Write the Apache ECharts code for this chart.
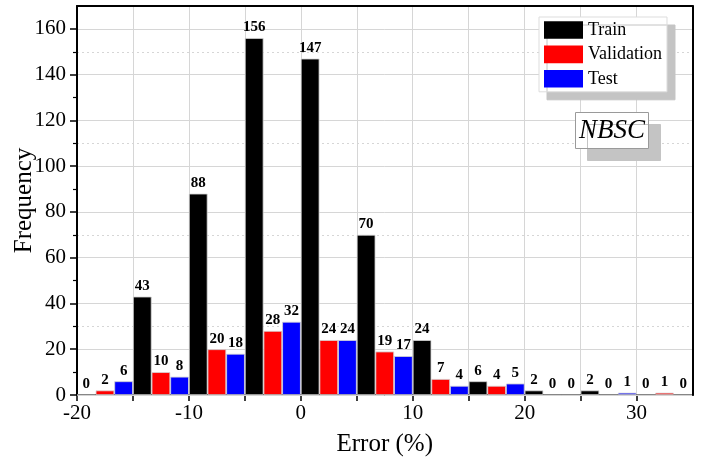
<!DOCTYPE html>
<html>
<head>
<meta charset="utf-8">
<script src="https://cdn.jsdelivr.net/npm/echarts@6/dist/echarts.min.js"></script>
<style>html,body{margin:0;padding:0;background:#fff;}#c{width:704px;height:463px;}</style>
</head>
<body>
<div id="c"></div>
<script>
const binLabels = ['-20~-15', '-15~-10', '-10~-5', '-5~0', '0~5', '5~10', '10~15', '15~20', '20~25', '25~30', '30~35'];
const trainData = [0, 43, 88, 156, 147, 70, 24, 6, 2, 2, 0];
const validationData = [2, 10, 20, 28, 24, 19, 7, 4, 0, 0, 1];
const testData = [6, 8, 18, 32, 24, 17, 4, 5, 0, 1, 0];
const xTickValues = [-20, -15, -10, -5, 0, 5, 10, 15, 20, 25, 30];
const xLabelValues = [-20, -10, 0, 10, 20, 30];
const yLabelValues = [0, 20, 40, 60, 80, 100, 120, 140, 160];
const yMinorValues = [10, 30, 50, 70, 90, 110, 130, 150];
const seriesNames = ['Train', 'Validation', 'Test'];
const seriesColors = ['#000000', '#ff0000', '#0000ff'];

const FONT = 'Liberation Serif';
const chart = echarts.init(document.getElementById('c'), null, {renderer: 'canvas'});
const labelStyle = {show: true, position: 'top', distance: 3, fontFamily: FONT, fontWeight: 'bold', fontSize: 15, color: '#000'};
const datasets = [trainData, validationData, testData];

chart.setOption({
  animation: false,
  backgroundColor: '#fff',
  grid: {left: 77, right: 11.5, top: 6, bottom: 68, containLabel: false, outerBoundsMode: 'none'},
  title: {
    text: 'NBSC', left: 575, top: 112,
    padding: [5, 4, 5, 4],
    backgroundColor: '#fff', borderColor: '#9a9a9a', borderWidth: 1,
    shadowBlur: 0, shadowColor: '#c4c4c4', shadowOffsetX: 12, shadowOffsetY: 12,
    textStyle: {fontFamily: FONT, fontStyle: 'italic', fontWeight: 'normal', fontSize: 27, color: '#000'}
  },
  legend: {
    orient: 'vertical', left: 539, top: 17,
    padding: [4, 5, 4, 5], itemGap: 6.4, itemWidth: 39, itemHeight: 17.6,
    icon: 'rect',
    backgroundColor: '#fff', borderColor: '#dddddd', borderWidth: 1,
    shadowBlur: 0, shadowColor: '#c4c4c4', shadowOffsetX: 8, shadowOffsetY: 8,
    itemStyle: {borderWidth: 0},
    textStyle: {fontFamily: FONT, fontSize: 18, color: '#000'},
    data: seriesNames
  },
  xAxis: [
    {
      type: 'value', min: -20, max: 35, position: 'bottom', z: 0,
      axisLine: {show: true, onZero: false, lineStyle: {color: '#000', width: 2}},
      axisTick: {show: true, customValues: xTickValues, length: 6, lineStyle: {color: '#000', width: 1.5}},
      axisLabel: {customValues: xLabelValues, fontFamily: FONT, fontSize: 21, color: '#000', margin: 8},
      splitLine: {show: true, lineStyle: {color: '#d6d6d6', width: 1}},
      name: 'Error (%)', nameLocation: 'middle', nameGap: 37, nameMoveOverlap: false,
      nameTextStyle: {fontFamily: FONT, fontSize: 25, color: '#000'}
    },
    {
      type: 'category', data: binLabels, position: 'top', boundaryGap: true, z: 5,
      axisLine: {show: true, onZero: false, lineStyle: {color: '#000', width: 2}},
      axisTick: {show: false}, axisLabel: {show: false}, splitLine: {show: false}
    }
  ],
  yAxis: [
    {
      type: 'value', min: 0, max: 170, position: 'left', z: 1,
      axisLine: {show: true, onZero: false, lineStyle: {color: '#000', width: 2}},
      axisTick: {show: true, customValues: yLabelValues, length: 7, lineStyle: {color: '#000', width: 1.5}},
      axisLabel: {customValues: yLabelValues, fontFamily: FONT, fontSize: 21, color: '#000', margin: 11},
      splitLine: {show: true, lineStyle: {color: '#d6d6d6', width: 1}},
      name: 'Frequency', nameLocation: 'middle', nameGap: 40, nameRotate: 90, nameMoveOverlap: false,
      nameTextStyle: {fontFamily: FONT, fontSize: 25, color: '#000'}
    },
    {
      type: 'value', min: 0, max: 170, position: 'right', z: 5,
      axisLine: {show: true, onZero: false, lineStyle: {color: '#000', width: 2}},
      axisTick: {show: false}, axisLabel: {show: false}, splitLine: {show: false}
    },
    {
      type: 'value', min: 0, max: 170, interval: 10, position: 'left', offset: 0, z: 0,
      axisLine: {show: false, onZero: false},
      axisTick: {show: true, customValues: yMinorValues, length: 4, lineStyle: {color: '#000', width: 1.2}},
      axisLabel: {show: false},
      splitLine: {show: true, lineStyle: {color: ['rgba(0,0,0,0)', '#d6d6d6'], width: 1, type: [2, 3]}}
    }
  ],
  series: seriesNames.map((name, i) => ({
    name: name, type: 'bar', xAxisIndex: 1, yAxisIndex: 0,
    data: datasets[i],
    barGap: '0%', barCategoryGap: '0%',
    itemStyle: {color: seriesColors[i], borderColor: '#d4d4d4', borderWidth: 0.8},
    label: labelStyle,
    z: 2
  }))
});
</script>
</body>
</html>
